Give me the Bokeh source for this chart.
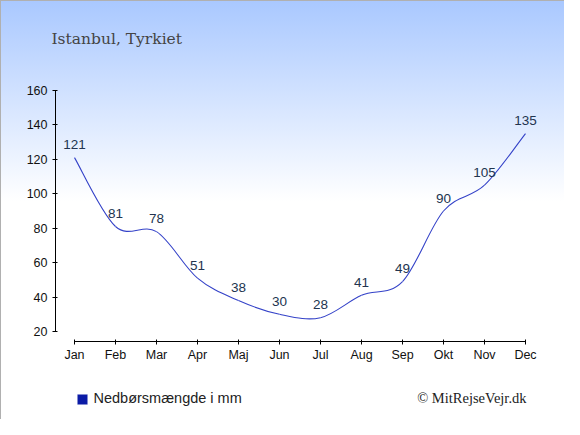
import numpy as np
from bokeh.plotting import figure
from bokeh.models import (ColumnDataSource, LabelSet, Label, BoxAnnotation,
                          FixedTicker, Range1d)
from bokeh.core.properties import value
from bokeh.embed import file_html
from bokeh.resources import INLINE

# ---- data ----
months = ["Jan", "Feb", "Mar", "Apr", "Maj", "Jun", "Jul", "Aug", "Sep", "Okt", "Nov", "Dec"]
precip = [121, 81, 78, 51, 38, 30, 28, 41, 49, 90, 105, 135]
y_ticks = [20, 40, 60, 80, 100, 120, 140, 160]
title_text = "Istanbul, Tyrkiet"
legend_text = "Nedbørsmængde i mm"
credit_text = "© MitRejseVejr.dk"

xs = np.arange(len(months), dtype=float)
ys = np.array(precip, dtype=float)

# ---- layout (pixel geometry of the frame) ----
W, H = 564, 419
PX_X0, PX_PER_MONTH = 74.0, 41.0          # pixel x of first month, pixels per month
PX_Y20, PX_PER_UNIT = 331.0, 241.0 / 140  # pixel y of value 20, pixels per mm


def dx(px):
    return (px - PX_X0) / PX_PER_MONTH


def dy(py):
    return 20 + (PX_Y20 - py) / PX_PER_UNIT


p = figure(width=W, height=H, output_backend="svg", toolbar_location=None,
           x_range=Range1d(dx(0), dx(W)), y_range=Range1d(dy(H), dy(0)),
           min_border=0, title=None)
p.background_fill_alpha = 0
p.border_fill_alpha = 0
p.outline_line_color = None
p.styles = {
    "background": "linear-gradient(to bottom, #a9c8ff 0%, #ffffff 48%, #ffffff 100%)",
    "box-shadow": "inset 1px 1px 0 #b0b0b0",
}
p.grid.visible = False

# axes drawn at fixed positions inside the frame
p.xaxis.fixed_location = dy(341)
p.yaxis.fixed_location = dx(55)
p.xaxis.ticker = FixedTicker(ticks=list(xs))
p.xaxis.major_label_overrides = {i: m for i, m in enumerate(months)}
p.xaxis.bounds = (0, len(months) - 1)
p.yaxis.ticker = FixedTicker(ticks=y_ticks)
p.yaxis.bounds = (y_ticks[0], y_ticks[-1])
for ax in (p.xaxis, p.yaxis):
    ax.axis_line_color = "#000000"
    ax.major_tick_line_color = "#000000"
    ax.minor_tick_line_color = None
    ax.major_tick_in = 2
    ax.major_tick_out = 3
    ax.major_label_text_font = "Liberation Sans"
    ax.major_label_text_font_size = "12.5px"
    ax.major_label_text_color = "#111111"
p.xaxis.major_label_standoff = 3
p.yaxis.major_label_standoff = 5

# smooth line (Catmull-Rom through the data points, as bezier segments)
P = np.column_stack([xs, ys])
prev = np.vstack([P[:1], P[:-1]])
nxt = np.vstack([P[1:], P[-1:]])
tang = (nxt - prev) / 6.0
c0 = P[:-1] + tang[:-1]
c1 = P[1:] - tang[1:]
p.bezier(x0=P[:-1, 0], y0=P[:-1, 1], x1=P[1:, 0], y1=P[1:, 1],
         cx0=c0[:, 0], cy0=c0[:, 1], cx1=c1[:, 0], cy1=c1[:, 1],
         line_color="#3442c8", line_width=1.1)

# value labels
src = ColumnDataSource(dict(x=xs, y=ys, t=[str(v) for v in precip]))
p.add_layout(LabelSet(x="x", y="y", text="t", source=src, y_offset=13,
                      text_align="center", text_baseline="middle",
                      text_font=value("Liberation Sans"), text_font_size="13.5px",
                      text_color="#22344f"))

# title, legend, credit
p.add_layout(Label(x=dx(51), y=dy(38), text=title_text, text_font="DejaVu Serif",
                   text_font_size="15.5px", text_color="#444444",
                   text_baseline="alphabetic", text_align="left"))
p.add_layout(BoxAnnotation(left=dx(77), right=dx(87), bottom=dy(404), top=dy(394),
                           fill_color="#0b1ba6", fill_alpha=1, line_color="#8890d0",
                           line_width=0.5))
p.add_layout(Label(x=dx(93), y=dy(397), text=legend_text, text_font="Liberation Sans",
                   text_font_size="14.5px", text_color="#222222",
                   text_baseline="middle", text_align="left"))
p.add_layout(Label(x=dx(526), y=dy(397), text=credit_text, text_font="Liberation Serif",
                   text_font_size="14.5px", text_color="#222222",
                   text_baseline="middle", text_align="right"))

open("out.html", "w").write(file_html(p, INLINE))
